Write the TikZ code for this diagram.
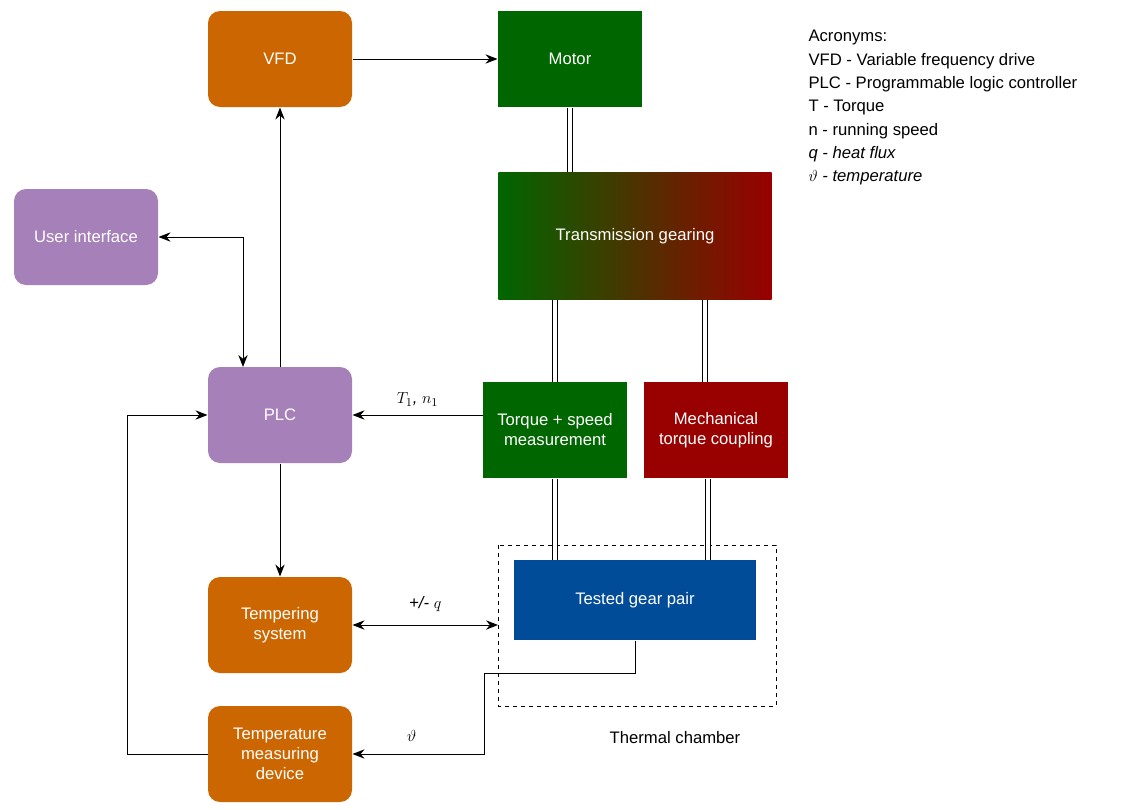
\documentclass[tikz,border=0pt]{standalone}
\usepackage{fontspec}
\setmainfont{Liberation Sans}
\usetikzlibrary{arrows.meta}
\definecolor{cOrange}{RGB}{204,102,0}
\definecolor{cGreen}{RGB}{0,102,0}
\definecolor{cRed}{RGB}{153,0,0}
\definecolor{cPurple}{RGB}{166,128,184}
\definecolor{cBlue}{RGB}{0,76,153}
\tikzset{every picture/.style={line width=0.75pt}}
\tikzset{
  blk/.style={draw=none, text=white, minimum width=108pt, minimum height=72pt, align=center, font=\fontsize{12.5}{15}\selectfont},
  rblk/.style={blk, rounded corners=9pt},
  arr/.style={-{Stealth[length=9pt,width=7pt]}},
  darr/.style={{Stealth[length=9pt,width=7pt]}-{Stealth[length=9pt,width=7pt]}},
  shaft/.style={double, double distance=2.5pt, line width=0.9pt},
  lbl/.style={font=\fontsize{12.5}{15}\selectfont\itshape}
}
\begin{document}
\begin{tikzpicture}[x=0.75pt,y=0.75pt,yscale=-1,xscale=1]
    \useasboundingbox (0,0) rectangle (1142,810);

    % Blocks
    \node [rblk, fill=cOrange] (vfd) at (280,59) {VFD};
    \node [blk, fill=cGreen] (motor) at (570,59) {Motor};
    \node [blk, minimum width=205pt, minimum height=95pt, left color=cGreen, right color=cRed] (gear) at (635,236) {Transmission gearing};
    \node [rblk, fill=cPurple] (ui) at (86,237) {User interface};
    \node [rblk, fill=cPurple] (plc) at (280,415) {PLC};
    \node [blk, fill=cGreen] (tsm) at (555,430) {Torque + speed\\measurement};
    \node [blk, fill=cRed] (mtc) at (716,430) {Mechanical\\torque coupling};
    \node [blk, fill=cBlue, minimum width=182pt, minimum height=60pt] (tgp) at (635,600) {Tested gear pair};
    \node [rblk, fill=cOrange] (temp) at (280,625) {Tempering\\system};
    \node [rblk, fill=cOrange] (tmd) at (280,754) {Temperature\\measuring\\device};

    % Thermal chamber
    \draw [dashed] (498,545) rectangle (776,706);
    \coordinate (cham) at (498,625);
    \node [font=\fontsize{12.5}{15}\selectfont] (chl) at (675,738) {Thermal chamber};

    % Acronyms
    \node [anchor=north west, align=left, inner sep=0pt, font=\fontsize{12.5}{17.5}\selectfont] (acr) at (808,30) {Acronyms:\\VFD - Variable frequency drive\\PLC - Programmable logic controller\\T - Torque\\n - running speed\\\textit{q - heat flux}\\\textit{$\vartheta$ - temperature}};

    % Signals
    \draw [arr] (vfd) -- (motor);
    \draw [arr] (plc) -- (vfd);
    \draw [darr] (ui.east) -| (243,367);
    \draw [arr] (tsm.west |- plc.east) -- (plc.east) node [midway, above=3pt, lbl] {$T_1$, $n_1$};
    \draw [arr] (plc) -- (temp);
    \draw [darr] (temp.east) -- (cham) node [midway, above=6pt, lbl] {+/- $q$};
    \draw [arr] (tgp.south) -- ++(0,33) -| (484,754) -- (tmd.east) node [pos=0.55, above=6pt, lbl] {$\vartheta$};
    \draw [arr] (tmd.west) -| (127,415) -- (plc.west);

    % Shafts
    \draw [shaft] (motor.south) -- (gear.north -| motor.south);
    \draw [shaft] (gear.south -| tsm.north) -- (tsm.north);
    \draw [shaft] (gear.south -| 705,0) -- (mtc.north -| 705,0);
    \draw [shaft] (tsm.south) -- (tgp.north -| tsm.south);
    \draw [shaft] (mtc.south -| 708,0) -- (tgp.north -| 708,0);
\end{tikzpicture}
\end{document}
